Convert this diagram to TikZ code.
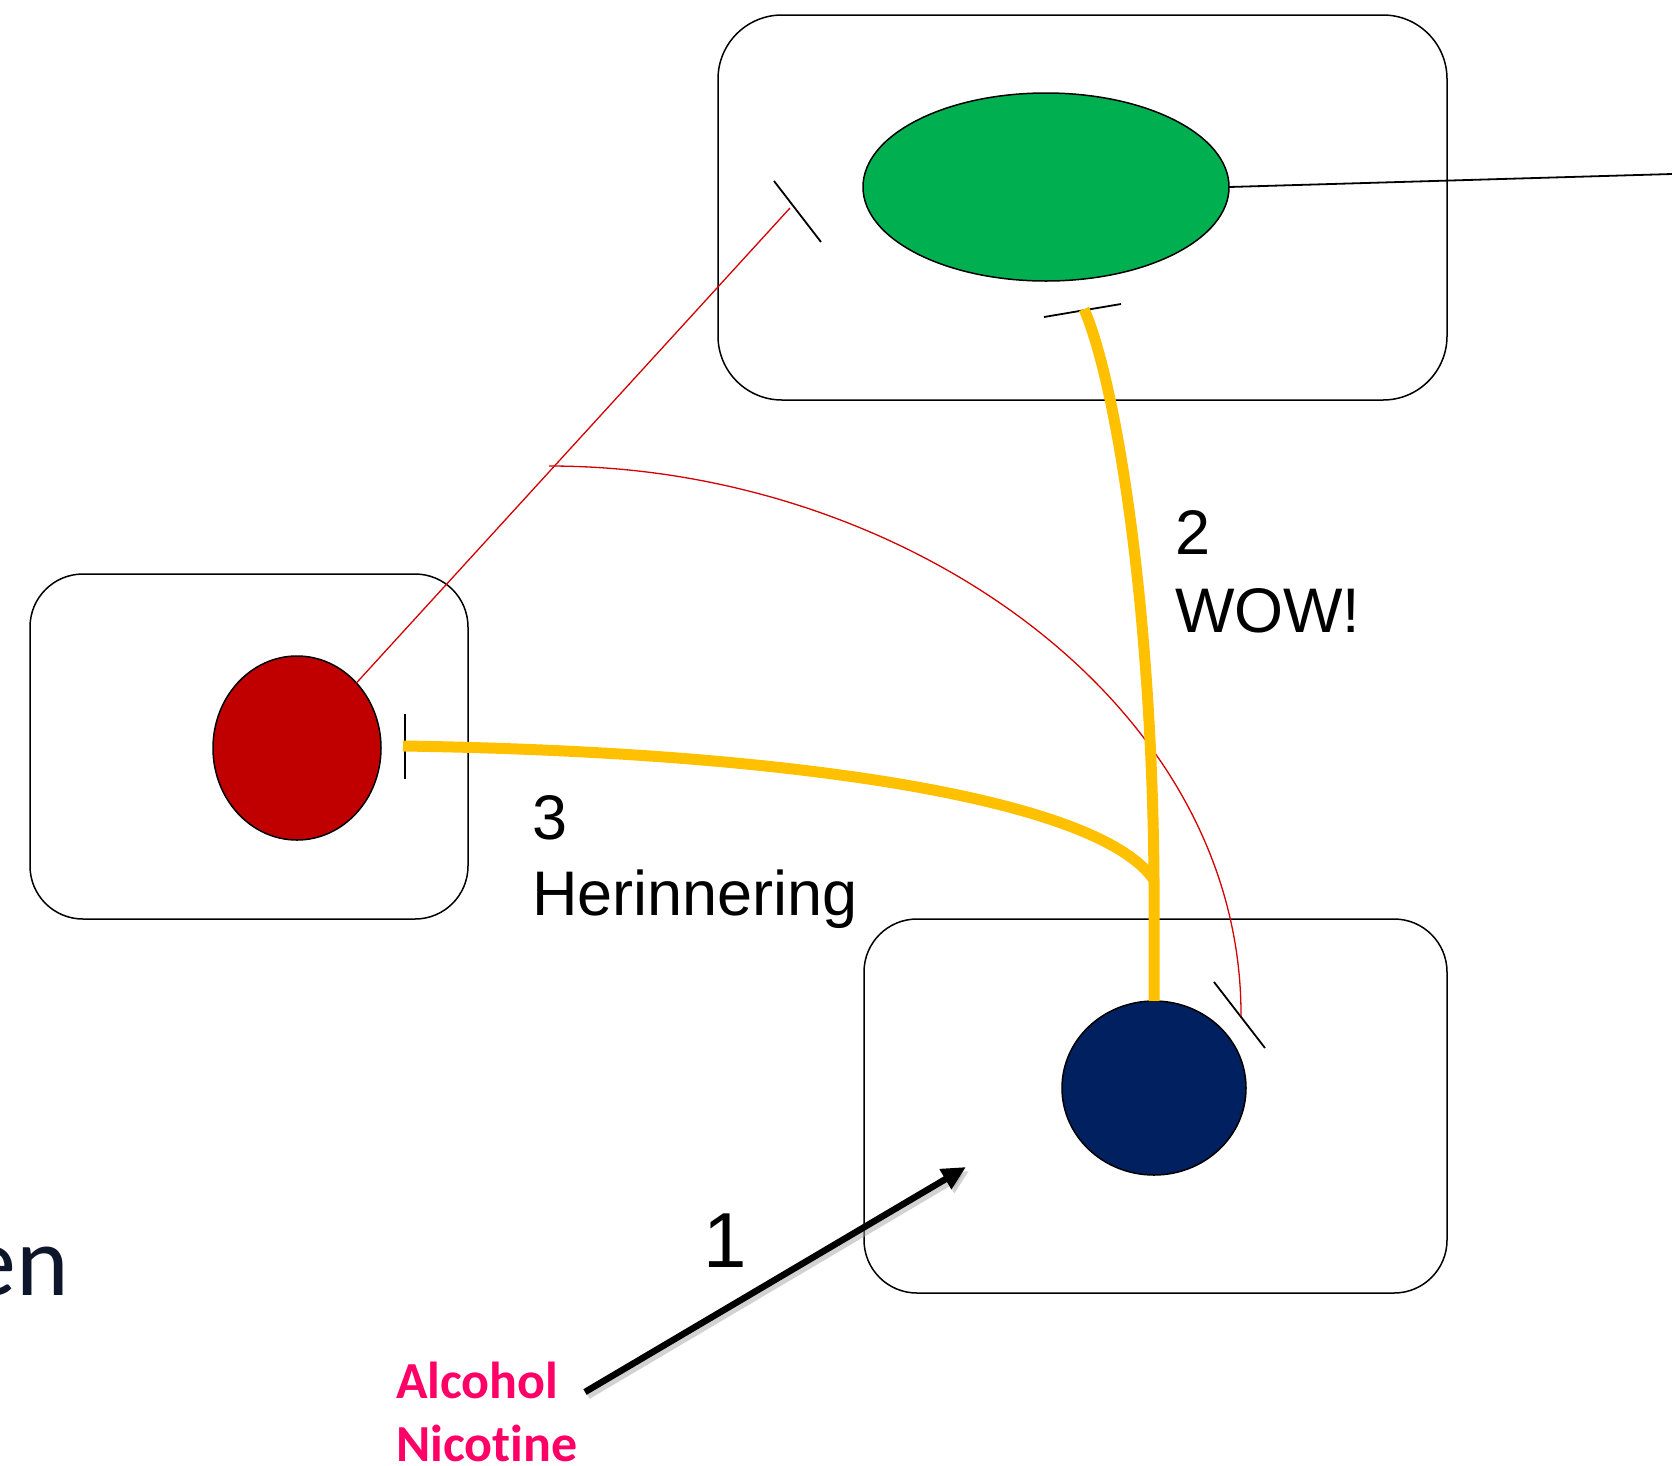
\documentclass[tikz,border=0pt]{standalone}
\usepackage{fontspec}
\setmainfont{Liberation Sans}
\newfontfamily\calibri[Ligatures={NoCommon,NoContextual}]{Carlito}
\usetikzlibrary{shapes.geometric,arrows.meta,calc}
\definecolor{cgreen}{RGB}{0,176,80}
\definecolor{cred}{RGB}{192,0,0}
\definecolor{cnavy}{RGB}{0,32,96}
\definecolor{cyellow}{RGB}{255,192,0}
\definecolor{cpink}{RGB}{255,0,102}
\definecolor{ctitle}{RGB}{13,22,42}
\definecolor{cthin}{RGB}{210,0,0}
\begin{document}
\begin{tikzpicture}[x=1pt,y=-1pt,
  cellbox/.style={draw=black,line width=1.5pt,inner sep=0pt,outer sep=0pt,rounded corners=#1},
  blob/.style={ellipse,draw=black,line width=1.5pt,inner sep=0pt,outer sep=0pt},
  tick/.style={draw=black,line width=1.8pt},
  redline/.style={draw=cthin,line width=1.3pt},
  yline/.style={draw=cyellow,line width=11pt},
  lbl/.style={inner sep=0pt,outer sep=0pt,anchor=base west,font=\fontsize{63}{70}\selectfont},
  drug/.style={inner sep=0pt,outer sep=0pt,anchor=base west,text=cpink,font=\calibri\bfseries\fontsize{52}{60}\selectfont}
]
\useasboundingbox (0,0) rectangle (1672,1465);

% boxes
\node[cellbox=64pt,minimum width=729pt,minimum height=385pt] (topbox) at (1082.5,207.5) {};
\node[cellbox=53pt,minimum width=438pt,minimum height=345pt] (leftbox) at (249,746.5) {};
\node[cellbox=53pt,minimum width=583pt,minimum height=374pt] (botbox) at (1155.5,1106) {};

% cells
\node[blob,fill=cgreen,minimum width=366pt,minimum height=188pt] (green) at (1046,187) {};
\node[blob,fill=cred,minimum width=168pt,minimum height=184pt] (redc) at (297,748) {};
\node[blob,fill=cnavy,minimum width=184pt,minimum height=174pt] (blue) at (1154,1088) {};

% tick marks
\coordinate (tkA1) at (774,181); \coordinate (tkA2) at (821,242);
\coordinate (tkB1) at (1044,317); \coordinate (tkB2) at (1121,304);
\coordinate (tkC1) at (1214,982); \coordinate (tkC2) at (1265,1048);
\coordinate (tkD1) at (405,714); \coordinate (tkD2) at (405,779);
\draw[tick] (tkA1) -- (tkA2);
\draw[tick] (tkB1) -- (tkB2);
\draw[tick] (tkC1) -- (tkC2);
\draw[tick] (tkD1) -- (tkD2);

% output line of green cell
\coordinate (edge) at (1672,174);
\draw[line width=1.8pt] (green.east) -- (edge);

% red connections
\coordinate (rA) at (790,208);
\coordinate (rJ) at (549,466);
\coordinate (rC) at (1241,1016);
\draw[redline] (redc) -- (rA);
\draw[redline] (rJ) .. controls (900,466) and (1242,700) .. (rC);

% yellow connections
\coordinate (yJ) at (1154,880);
\coordinate (yB) at (1084,309);
\coordinate (yD) at (403,746);
\draw[yline] (blue.north) -- (yJ) .. controls (1152,600) and (1115,380) .. (yB);
\draw[yline] (yD) .. controls (800,752) and (1100,800) .. (yJ);

% arrow
\coordinate (aS) at (585,1392);
\coordinate (aE) at (966,1167);
\draw[line width=6.5pt,draw=black!35,opacity=0.5,-{Triangle[length=24pt,width=22pt]}] ($(aS)+(3,4)$) -- ($(aE)+(3,4)$);
\draw[line width=6.5pt,-{Triangle[length=24pt,width=22pt]}] (aS) -- (aE);

% labels
\node[lbl] (n2) at (1175,554) {2};
\node[lbl] (wow) at (1175,632) {WOW!};
\node[lbl] (n3) at (532,839) {3};
\node[lbl] (her) at (532,915) {Herinnering};
\node[inner sep=0pt,anchor=base,font=\fontsize{78}{80}\selectfont] (n1) at (725,1267) {1};
\node[drug] (alc) at (396,1398) {Alcohol};
\node[drug] (nic) at (396,1461) {Nicotine};
\node[inner sep=0pt,anchor=base east,text=ctitle,font=\calibri\fontsize{100}{110}\selectfont] (en) at (69,1295) {en};
\end{tikzpicture}
\end{document}
